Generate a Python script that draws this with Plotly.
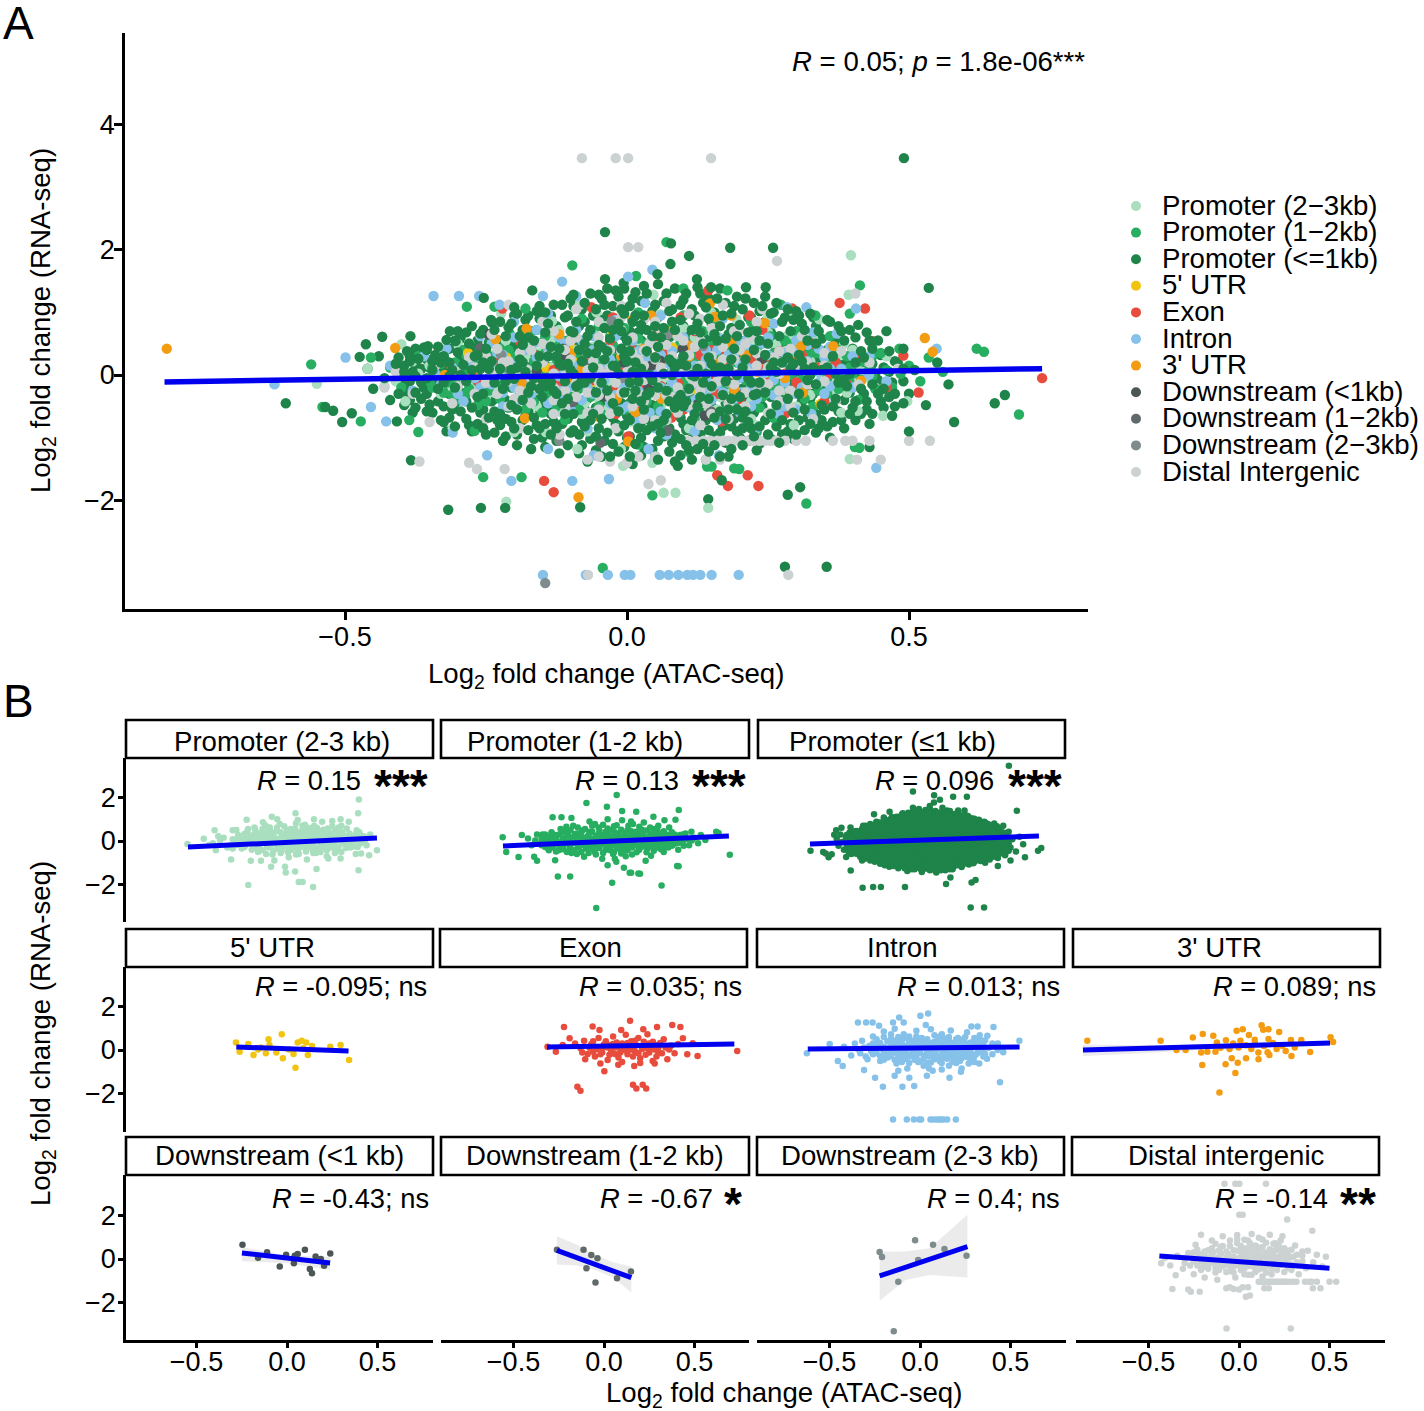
import plotly.graph_objects as go

FONT = "Liberation Sans"
W, H = 1424, 1411

# ------------------ values (ATAC log2FC, RNA log2FC) ------------------
promoter_3kb = [
(.397,1.91),(.393,1.28),(-.4,.49),(-.223,.98),(.047,1.28),(-.084,1.12),(-.133,.86),(-.054,1.0),(.059,.97),(.149,1.0),(.194,.89),(.25,.92),
(.296,1.0),(.341,.89),(-.28,.51),(-.55,-.14),(-.393,-.42),(-.309,-.85),(-.2,-.91),(-.144,-.91),(-.088,-1.18),(-.011,-1.18),(-.007,-1.45),
(.045,-1.4),(.163,-1.29),(.228,-.8),(.296,-.8),(.395,-1.34),(.409,-.57),(.454,-.65),(.497,-.42),(-.214,-2.02),(.065,-1.88),(.086,-1.88),(.144,-2.12),
(-.35,.15),(-.31,-.2),(-.27,.28),(-.25,-.35),(-.22,.42),(-.19,-.12),(-.18,.62),(-.16,-.5),(-.15,.18),(-.12,.72),(-.11,-.28),(-.09,.4),(-.08,-.62),
(-.06,.1),(-.04,.78),(-.03,-.42),(-.01,.3),(.01,-.75),(.02,.55),(.03,-.18),(.05,.82),(.06,-.5),(.07,.2),(.09,.62),(.1,-.3),(.11,-.85),(.12,.35),
(.13,.05),(.15,.7),(.16,-.55),(.17,.25),(.19,-.15),(.2,.52),(.22,-.42),(.23,.12),(.25,.68),(.26,-.25),(.28,.38),(.3,-.5),(.31,.1),(.33,.58),(.35,-.3),
(.36,.22),(.38,-.6),(.4,.4),(.42,.05),(.44,-.2),(.46,.3),(-.46,.1),(-.43,-.18),(-.38,.22),(-.3,.5),(-.24,.08),(-.2,.22),(-.13,.3),(-.07,-.9),(.0,.12),(.08,-.1),(.14,.45),
(-.41,-.1),(-.37,.02),(-.33,-.3),(-.29,-.05),(-.26,.12),(-.23,-.2),(-.21,.02),(-.18,.3),(-.17,-.32),(-.14,-.05),(-.12,.15),(-.1,-.15),(-.08,.02),(-.06,.45),(-.05,-.25),(-.03,.2),
(-.02,-.05),(.0,.5),(.01,-.32),(.02,.08),(.04,.3),(.05,-.08),(.07,-.3),(.08,.45),(.1,.12),(.11,-.12),(.12,.6),(.14,-.38),(.15,.1),(.17,.48),(.18,-.25),(.2,.2),(.21,-.05),(.23,.4),
(.24,-.2),(.26,.15),(.27,-.42),(.29,.05),(.3,.3),(.32,-.12),(.34,.12),(.36,-.08),(.38,.32),(.39,-.28),(.41,.18),(.43,-.05),(.3,.7),(.1,.75),(-.1,.55),(.22,-.7),(.05,-.62),
]
promoter_3kb_core = [
(-.3,[.08,-.35]),(-.275,[-.18,.12]),(-.25,[.2,-.1]),(-.235,[.32,-.28]),(-.215,[-.08,.1,.55]),(-.195,[.25,-.4]),(-.175,[.08,-.18,.5]),(-.155,[.35,-.25,-.02]),(-.135,[.12,-.42,.55]),
(-.115,[.02,.35,-.6]),(-.095,[.18,-.3,.62]),(-.075,[.3,-.12,-.45]),(-.055,[.02,.62,-.35]),(-.035,[.4,-.1,-.55]),(-.015,[.15,.68,-.25]),(.005,[.28,-.12,-.52]),(.025,[.38,.02,-.4]),(.045,[.15,-.28,.58]),
(.065,[.38,-.05,-.6]),(.085,[.22,-.2,.7]),(.105,[.42,-.02,-.48]),(.125,[.15,-.25,.5]),(.145,[.28,-.12,-.55]),(.165,[.05,.6,-.35]),(.185,[.32,-.05,-.5]),(.205,[.42,.05,-.28]),(.225,[.2,-.12,.58]),
(.245,[.3,-.3,.02]),(.265,[.48,-.05,-.55]),(.285,[.18,-.28,.62]),(.305,[.4,-.1]),(.325,[.22,-.32]),(.345,[.35,-.05]),(.365,[.1,-.25]),(.385,[.5,.02]),(.405,[-.12,.28]),(.425,[.22]),
]
promoter_2kb = [
(.07,2.12),(-.097,1.75),(.016,1.58),(-.284,1.09),(-.235,1.09),(-.18,1.06),(-.208,.66),(.1,1.38),(.178,1.35),(.273,1.12),(.334,.95),(.395,.98),(.413,1.43),
(-.56,.17),(-.454,.28),(-.54,-.51),(-.472,-.74),(-.386,-.72),(-.37,-.91),(-.27,-.89),(-.255,-1.63),(-.187,-1.63),(.02,-1.11),(.068,-.95),(.11,-1.23),(.142,-1.46),
(.19,-1.49),(.045,-1.92),(.318,-2.05),(-.043,-3.08),(.23,-.91),(.404,-1.15),(.695,-.63),(.62,.42),(.535,.28),(.483,.42),(.633,.37),(.412,-1.16),(.15,-1.46),(.199,-1.5),
(-.42,.12),(-.4,-.2),(-.37,.3),(-.35,-.1),(-.33,.18),(-.31,-.32),(-.29,.4),(-.27,.05),(-.25,-.42),(-.24,.55),(-.22,-.15),(-.2,.28),(-.18,-.55),(-.17,.7),(-.15,.1),
(-.14,-.3),(-.12,.48),(-.11,-.72),(-.09,.22),(-.08,.9),(-.06,-.1),(-.05,-.5),(-.03,.62),(-.02,.18),(-.01,-.82),(.01,.42),(.02,1.0),(.03,-.25),(.04,.1),(.05,-.6),
(.07,.72),(.08,.28),(.09,-.4),(.1,.95),(.11,.02),(.12,-.7),(.13,.5),(.14,-.2),(.16,.78),(.17,.15),(.18,-.52),(.2,.4),(.21,-.08),(.22,.85),(.24,-.35),(.25,.22),
(.26,-.68),(.28,.55),(.29,.0),(.3,-.3),(.32,.32),(.33,-.5),(.35,.12),(.36,.62),(.38,-.18),(.39,.3),(.41,-.4),(.43,.1),(.45,.35),(.47,-.2),(.5,.15),(.52,-.1),(.56,.05),
(-.38,.02),(-.34,.3),(-.32,-.12),(-.3,.12),(-.28,-.22),(-.26,.28),(-.23,.02),(-.21,.4),(-.19,-.32),(-.16,.32),(-.13,-.12),(-.12,.12),(-.1,-.35),(-.08,.42),(-.07,.02),(-.04,-.22),(-.03,.32),
(.0,.02),(.01,-.4),(.02,.58),(.04,-.12),(.06,.4),(.07,-.32),(.09,.1),(.1,-.15),(.12,.28),(.13,-.42),(.15,.45),(.16,-.02),(.18,.2),(.19,-.28),(.21,.52),(.22,.1),(.24,-.12),(.26,.35),
(.27,-.2),(.29,.25),(.31,-.08),(.33,.45),(.34,-.25),(.37,.2),(.4,.02),(.42,.28),(.44,-.22),(.15,.9),(-.05,.78),(.06,-.82),(-.15,-.6),(.3,.7),
]
promoter_2kb_core = [
(-.345,[.12,-.2]),(-.325,[.0,.3,-.28]),(-.305,[.2,-.1,-.42]),(-.285,[.08,.32,-.3]),(-.265,[-.1,.18,-.48]),(-.245,[.3,-.05,-.25]),(-.225,[.42,.12,-.38]),(-.205,[-.02,.25,-.5]),(-.185,[.15,.5,-.18]),
(-.165,[-.08,.22,-.42]),(-.145,[.35,.02,-.22,.62]),(-.125,[.25,-.2,-.5]),(-.105,[.12,.55,-.08]),(-.085,[.28,-.22,-.55]),(-.065,[.42,.1,-.35,.7]),(-.045,[.22,-.05,-.62]),(-.025,[.48,.05,-.32]),(-.005,[.28,-.15,-.55,.75]),
(.015,[.12,-.22,.32]),(.035,[.5,.22,-.05,-.42]),(.055,[.15,-.18,-.5,.68]),(.075,[.32,.02,-.25]),(.095,[.52,.2,-.08,-.58]),(.115,[.35,-.22,-.42]),(.135,[.15,-.02,.7]),(.155,[.28,-.3,-.62]),(.175,[.42,.05,-.15]),
(.195,[.2,-.4,.65]),(.215,[.3,-.02,-.25]),(.235,[.48,.15,-.52]),(.255,[.05,-.25,.62]),(.275,[.32,-.1,-.45]),(.295,[.12,.5,-.28]),(.315,[.22,-.02,-.38]),(.335,[.12,.35,-.15]),(.355,[.28,-.05,-.3]),
(.375,[.02,.4,-.22]),(.395,[.12,-.12]),(.415,[.22,-.08]),(.435,[-.02,.3]),(.46,[.08]),(.485,[.02]),
]
promoter_1kb = [
(.491,3.46),(-.039,2.28),(.078,2.1),(.183,2.03),(.259,2.03),(.11,1.9),(.077,1.77),(.535,1.39),(-.317,-2.15),(-.259,-2.12),(-.216,-2.12),(-.383,-1.36),
(-.605,-.45),(-.505,-.75),(-.535,-.51),(-.488,-.61),(-.521,-.57),(-.408,-.74),(-.083,-2.11),(.144,-1.98),(.168,-1.68),(.285,-1.91),(.307,-1.79),(.28,-3.06),(.354,-3.06),
(.652,-.45),(.67,-.32),(.58,-.75),(.5,-.9),(.43,-1.15),(-.463,.49),(-.434,.61),(-.384,.62),(-.474,.29),(-.353,.46),(-.314,.7),(-.304,.54),(-.275,.78),(-.254,1.23),(-.241,.88),
(-.2,1.08),(-.168,1.35),(-.039,1.53),(-.006,1.47),(.054,1.61),(.124,1.53),(.149,1.4),(.211,1.4),(.246,1.4),
(-.46,.1),(-.45,-.22),(-.44,.3),(-.43,-.05),(-.42,-.4),(-.41,.18),(-.4,-.15),(-.39,.38),(-.39,-.32),(-.38,.05),(-.38,-.6),(-.37,.26),(-.36,-.2),(-.36,.44),
(-.35,.12),(-.35,-.47),(-.34,-.03),(-.34,.32),(-.33,-.72),(-.33,.2),(-.32,-.28),(-.32,.56),(-.32,-.9),(-.31,.08),(-.31,-.55),(-.3,.36),(-.3,-.14),(-.3,.7),
(-.29,-.38),(-.29,.16),(-.28,-.8),(-.28,.5),(-.28,-.02),(-.27,.3),(-.27,-.25),(-.26,.66),(-.26,-.6),(-.26,.1),(-.25,-.95),(-.25,.42),(-.25,-.12),(-.24,.22),
(-.24,-.42),(-.24,.84),(-.23,.02),(-.23,-.72),(-.23,.56),(-.22,-.22),(-.22,.34),(-.22,-1.05),(-.21,.12),(-.21,.76),(-.21,-.52),(-.2,-.06),(-.2,.48),(-.2,-.85),
(-.2,.95),(-.19,.25),(-.19,-.32),(-.19,.62),(-.18,-.65),(-.18,.05),(-.18,.88),(-.17,-.18),(-.17,.4),(-.17,-1.18),(-.17,-.45),(-.16,.15),(-.16,.72),(-.16,-.8),
(-.16,1.02),(-.15,-.08),(-.15,.52),(-.15,-.35),(-.15,-1.0),(-.14,.3),(-.14,-.58),(-.14,.82),(-.14,.0),(-.13,-.25),(-.13,.62),(-.13,1.12),(-.13,-.75),(-.12,.18),
(-.12,-.42),(-.12,.42),(-.12,-1.25),(-.11,-.1),(-.11,.92),(-.11,-.62),(-.11,.28),(-.1,.7),(-.1,-.3),(-.1,.08),(-.1,-.92),(-.1,1.22),(-.09,.5),(-.09,-.18),(-.09,-.52),
(-.09,.85),(-.08,-.75),(-.08,.22),(-.08,1.05),(-.08,-.05),(-.08,-1.12),(-.07,.62),(-.07,-.38),(-.07,.35),(-.07,-1.38),(-.06,.12),(-.06,.95),(-.06,-.62),(-.06,-.2),
(-.05,.48),(-.05,1.28),(-.05,-.85),(-.05,.02),(-.04,.75),(-.04,-.35),(-.04,.25),(-.04,-1.05),(-.04,1.12),(-.03,-.12),(-.03,.58),(-.03,-.55),(-.03,-1.3),(-.02,.9),
(-.02,.14),(-.02,-.28),(-.02,1.35),(-.02,-.78),(-.01,.42),(-.01,-.05),(-.01,.7),(-.01,-.45),(-.01,1.05),(.0,-1.0),(.0,.22),(.0,-.65),(.0,.55),(.0,-.18),(.01,.85),
(.01,-1.42),(.01,.05),(.01,1.22),(.01,-.38),(.02,.35),(.02,-.85),(.02,.68),(.02,-.1),(.03,1.42),(.03,-.55),(.03,.18),(.03,.95),(.03,-1.15),(.04,-.28),(.04,.5),
(.04,.0),(.04,-.72),(.05,.78),(.05,-1.3),(.05,.28),(.05,-.15),(.05,1.12),(.06,-.45),(.06,.6),(.06,.1),(.06,-.92),(.07,1.3),(.07,-.25),(.07,.4),(.07,-.62),(.08,.85),
(.08,.0),(.08,-1.08),(.08,.2),(.08,1.05),(.09,-.38),(.09,.62),(.09,-1.45),(.09,-.12),(.1,.3),(.1,-.78),(.1,1.2),(.1,.78),(.1,-.5),(.11,.08),(.11,-.22),(.11,.5),(.11,-1.2),
(.12,.95),(.12,-.62),(.12,.22),(.12,-.02),(.13,-.95),(.13,.68),(.13,1.3),(.13,-.35),(.14,.4),(.14,.02),(.14,-.72),(.14,1.08),(.14,-1.35),(.15,-.18),(.15,.82),(.15,.18),
(.15,-.5),(.16,.55),(.16,-1.05),(.16,1.22),(.16,-.05),(.17,-.32),(.17,.3),(.17,.95),(.17,-.82),(.18,.1),(.18,.65),(.18,-.55),(.18,-1.3),(.19,1.1),(.19,-.15),(.19,.42),
(.19,-.7),(.2,.8),(.2,.02),(.2,-.35),(.2,-1.0),(.21,.25),(.21,1.22),(.21,-.58),(.21,.55),(.22,-.12),(.22,.92),(.22,-.85),(.23,.35),(.23,-.3),(.23,-1.2),(.23,.7),(.24,.08),
(.24,1.1),(.24,-.5),(.25,.5),(.25,-.18),(.25,-.95),(.25,.85),(.26,.2),(.26,-.68),(.26,1.0),(.27,-.3),(.27,.62),(.27,-.02),(.27,-1.08),(.28,.35),(.28,.92),(.28,-.5),
(.29,.1),(.29,-.78),(.29,.7),(.3,-.2),(.3,1.02),(.3,.42),(.3,-.95),(.31,-.42),(.31,.22),(.31,.82),(.32,-.08),(.32,-.68),(.32,.55),(.33,.92),(.33,.12),(.33,-.3),(.34,-.85),
(.34,.38),(.34,.7),(.35,-.12),(.35,-.55),(.36,.25),(.36,.85),(.36,-1.0),(.37,.02),(.37,.52),(.37,-.38),(.38,-.72),(.38,.7),(.39,.18),(.39,-.18),(.4,.42),(.4,-.52),(.41,.05),
(.41,.8),(.42,-.3),(.42,.28),(.43,-.78),(.43,.55),(.44,.02),(.45,-.42),(.45,.32),(.46,.7),(.47,-.12),(.47,-.65),(.48,.2),(.49,.42),(.5,-.3),(.51,.08),(.53,-.48),(.55,.2),(.57,-.15),
]
# extra dark-green points of the solid core, listed by ATAC position
promoter_1kb_core = [
(-.405,[.28,-.05,-.3,.1]),(-.395,[.05,-.22,.15,-.48]),(-.385,[.22,-.1,.3,-.4]),(-.375,[-.02,.15,-.28,.42,-.52]),(-.365,[.1,-.12,.32,-.38]),
(-.355,[.25,-.05,-.3,.4,-.58]),(-.345,[.08,-.15,.22,-.6]),(-.335,[.45,.02,-.22,-.42]),(-.325,[.3,.1,-.12,-.5,-.75]),(-.315,[.42,-.02,-.3,.2,-.68]),
(-.305,[.55,.12,-.2,-.45,-.82]),(-.295,[.3,.0,-.28,-.58,.58]),(-.285,[.68,.22,-.1,-.42,-.7]),(-.275,[.45,.08,-.18,-.52,-.9]),(-.265,[.32,-.02,-.35,.55,-.78]),
(-.255,[.72,.2,-.08,-.3,-.55,-.85]),(-.245,[.52,.1,-.18,-.68,.32]),(-.235,[.72,.28,-.12,-.38,-.58,-.92]),(-.225,[.85,.45,.1,-.3,-.62,-.8]),(-.215,[.62,.25,-.1,-.4,-.7,-.98]),
(-.205,[.82,.32,.08,-.2,-.48,-.75]),(-.195,[.98,.45,.12,-.12,-.55,-.95,-1.12]),(-.185,[.72,.2,-.05,-.4,-.72,.48]),(-.175,[.95,.6,.12,-.28,-.58,-.88]),(-.165,[.35,-.05,-.35,-.68,-1.02,.55]),
(-.155,[.9,.3,.02,-.22,-.55,-.85,1.1]),(-.145,[.68,.15,-.18,-.45,-.78,-1.15,1.0]),(-.135,[.95,.45,.12,-.12,-.62,-.95]),(-.125,[.78,.3,.0,-.3,-.52,-.85,-1.05]),(-.115,[1.12,.55,.15,-.2,-.45,-.78]),
(-.105,[.95,.45,.18,-.05,-.38,-.7,-1.12]),(-.095,[1.1,.68,.3,.02,-.28,-.62,-.88,1.28]),(-.085,[.78,.4,.12,-.15,-.42,-.95,-1.25]),(-.075,[1.15,.85,.5,.18,-.12,-.55,-.82]),(-.065,[1.3,.72,.28,-.05,-.32,-.72,-1.02]),
(-.055,[1.05,.62,.35,.1,-.28,-.52,-.98,-1.2]),(-.045,[1.22,.88,.45,.12,-.12,-.45,-.7,-1.3]),(-.035,[1.38,.95,.38,.05,-.25,-.62,-.92]),(-.025,[1.1,.72,.42,.15,-.18,-.45,-.68,-1.1]),(-.015,[1.25,.82,.28,.02,-.32,-.58,-.9,-1.22]),
(-.005,[1.38,.98,.62,.3,.08,-.28,-.55,-.8,-1.15]),(.005,[1.1,.7,.38,.15,-.12,-.45,-.72,-.98,-1.3]),(.015,[1.32,.95,.5,.2,-.05,-.25,-.62,-1.1]),(.025,[1.18,.8,.55,.1,-.18,-.42,-.75,-1.0,-1.28]),(.035,[1.3,.72,.38,.02,-.32,-.62,-.88]),
(.045,[1.02,.62,.22,-.08,-.48,-.82,-1.18]),(.055,[1.45,.92,.45,.15,-.2,-.55,-.78,-1.05,-1.35]),(.065,[1.18,.75,.32,.02,-.35,-.72,-.98]),(.075,[1.02,.6,.25,-.08,-.42,-.85,-1.22]),(.085,[1.38,.72,.42,.12,-.28,-.52,-.95,-1.38]),
(.095,[1.12,.88,.48,.18,-.05,-.32,-.68,-1.02,-1.28]),(.105,[1.3,.62,.15,-.12,-.42,-.88,-1.12]),(.115,[1.05,.72,.35,.0,-.32,-.72,-1.02,-1.35]),(.125,[1.4,.82,.45,.1,-.18,-.5,-.8,-1.18]),(.135,[1.15,.5,.25,-.12,-.6,-1.1]),
(.145,[1.22,.9,.6,.28,-.05,-.38,-.88,-1.22]),(.155,[1.0,.65,.32,.05,-.28,-.68,-.98,-1.12]),(.165,[1.38,.78,.42,.12,-.22,-.58,-.92,-1.3]),(.175,[1.15,.58,.15,-.1,-.45,-.7,-1.08]),(.185,[.98,.75,.25,-.02,-.38,-.82,-1.18]),
(.195,[1.25,.62,.3,.0,-.28,-.55,-.9]),(.205,[1.05,.45,.12,-.22,-.68,-.85,-1.12]),(.215,[.92,.68,.35,-.05,-.42,-.75,-1.05]),(.225,[1.15,.75,.4,.15,-.32,-.6,-.98]),(.235,[1.02,.55,.2,-.12,-.45,-.82,-1.1]),
(.245,[1.25,.85,.32,-.02,-.28,-.72]),(.255,[.98,.68,.12,-.35,-.62,-1.02]),(.265,[1.15,.42,.05,-.15,-.48,-.82]),(.275,[.85,.5,.2,-.22,-.72,-.95]),(.285,[1.05,.62,.28,-.08,-.38,-.9]),
(.295,[.88,.52,.18,-.12,-.6,-1.02]),(.305,[.95,.62,.32,-.05,-.3,-.72]),(.315,[.72,.42,.1,-.2,-.55,-.88]),(.325,[.98,.3,.0,-.38,-.78]),(.335,[.78,.5,.22,-.15,-.62,-.92]),
(.345,[.58,.08,-.22,-.48,-.72]),(.355,[.88,.4,.12,-.3,-.82]),(.365,[.62,.3,-.02,-.5,-.75]),(.375,[.78,.18,-.12,-.58]),(.385,[.55,.3,-.08,-.4,-.85]),
(.395,[.72,.02,-.28,-.62]),(.405,[.6,.2,-.12,-.42,-.72]),(.415,[.38,-.02,-.22,-.62]),(.425,[.68,.12,-.42,-.55]),(.435,[.42,.18,-.15,-.62]),(.445,[.55,-.08,-.3]),(.455,[.12,-.22,-.52]),(.465,[.38,.05,-.35]),(.475,[.22,-.3,-.5]),(.49,[.1,-.1,-.45]),
]
utr5 = [
(-.282,.35),(-.262,-.08),(-.214,.28),(-.185,-.23),(-.144,.12),(-.117,-.15),(-.102,.49),(-.097,.23),(-.059,-.11),(-.029,.72),(-.023,-.38),(.036,-.18),(.047,-.82),
(.059,.35),(.081,.43),(.106,.34),(.115,-.23),(.138,.18),(.239,.15),(.296,.23),(.343,-.46),(.01,.02),(.09,.08),(-.16,.02),
]
exon = [
(.144,1.35),(-.221,1.06),(-.063,1.08),(-.025,.92),(.095,.92),(.217,.95),(.293,1.06),(.377,1.15),(.422,1.06),(-.312,.15),(-.19,.54),(-.228,.23),(-.266,-.08),
(-.147,-1.69),(.16,-1.6),(.214,-1.6),(.002,-.98),(.167,-.74),(.179,-1.77),(.233,-1.77),(-.13,-1.87),(.079,-.68),(-.104,-.43),(.02,-.46),(.269,-.51),(.517,-.28),(.49,.31),(.436,.54),(.736,-.05),(.46,-.2),
(-.16,.3),(-.13,.08),(-.11,.42),(-.09,-.18),(-.07,.28),(-.05,-.3),(-.03,.55),(-.01,.1),(.01,.4),(.03,-.22),(.05,.62),(.06,.12),(.08,-.35),(.1,.3),(.12,.7),(.13,-.2),(.15,.4),(.17,-.05),
(.19,.55),(.2,-.38),(.22,.22),(.24,.72),(.25,-.12),(.27,.38),(.29,-.3),(.3,.12),(.33,.5),(.35,-.42),(.37,.2),(.39,-.15),(.41,.28),(.2,-.6),(.28,-.62),(.1,-.55),(-.02,-.62),
(-.08,.1),(-.04,.05),(-.02,-.2),(.0,.25),(.02,.12),(.04,-.05),(.07,.35),(.09,-.12),(.11,.1),(.14,.18),(.16,-.3),(.18,.22),(.21,.05),(.23,-.22),(.26,.15),(.28,.02),(.31,.32),(.32,-.15),(.34,.12),(.36,.02),
(-.12,-.12),(-.06,.4),(-.01,-.12),(.03,.22),(.06,-.18),(.08,.12),(.12,-.02),(.15,.02),(.19,-.15),(.22,.38),(.24,.08),(.29,.22),(.3,-.12),(-.06,-.08),(.05,.28),(.13,.32),(.17,.42),(.25,.3),
]
intron = [
(-.343,1.26),(-.298,1.26),(-.262,1.26),(-.226,1.12),(-.149,1.26),(-.115,1.49),(-.09,1.26),(.045,1.68),(.002,1.57),(.032,1.15),(.284,1.08),(.318,1.08),(.406,1.06),(.372,.66),(.549,.42),(-.625,-.15),
(-.499,.28),(-.454,-.51),(-.427,-.74),(-.309,-.92),(-.248,-1.28),(-.205,-1.69),(-.097,-1.69),(-.032,-1.66),(-.14,-1.18),(-.059,-1.28),(.038,-1.18),(.163,-1.28),(.226,-1.0),(.269,-.62),(.327,-.62),(.442,-1.48),(.429,.0),
(-.149,-3.19),(-.073,-3.19),(-.034,-3.19),(-.004,-3.19),(.006,-3.19),(.058,-3.19),(.074,-3.19),(.091,-3.19),(.107,-3.19),(.117,-3.19),(.13,-3.19),(.15,-3.19),(.198,-3.19),
(-.42,.15),(-.38,-.25),(-.36,.3),(-.34,.02),(-.32,.42),(-.3,-.3),(-.28,.18),(-.26,.62),(-.25,-.12),(-.23,.35),(-.22,-.5),(-.2,.85),(-.19,.1),(-.17,-.3),(-.16,.52),(-.14,.98),(-.13,-.62),(-.12,.25),
(-.1,-.18),(-.09,.72),(-.07,-.85),(-.06,.4),(-.05,.08),(-.03,-.45),(-.02,.88),(-.01,-.15),(.01,.55),(.02,-.72),(.03,.22),(.05,-.3),(.06,.95),(.07,-.95),(.08,.38),(.09,.02),(.11,-.52),(.12,.72),(.13,-.15),
(.14,.25),(.16,-.72),(.17,.9),(.18,.1),(.19,-.38),(.21,.55),(.22,-.1),(.23,-.85),(.25,.32),(.26,.82),(.27,-.25),(.29,.12),(.3,-.55),(.32,.48),(.34,-.12),(.35,.28),(.37,-.4),(.38,.1),(.4,-.2),(.43,.3),(.46,-.1),
(.0,.3),(.1,.45),(-.08,-.4),(.15,-.4),(.24,.02),(-.21,.05),
(-.33,-.15),(-.31,.12),(-.29,-.42),(-.27,-.05),(-.24,.2),(-.22,.12),(-.2,-.2),(-.18,.4),(-.16,-.1),(-.15,.22),(-.13,.02),(-.11,-.38),(-.11,.5),(-.09,.15),(-.07,-.2),(-.06,.62),(-.04,-.08),(-.03,.25),
(-.01,-.55),(-.01,.42),(.01,.08),(.02,-.25),(.04,.5),(.05,.02),(.06,-.58),(.07,.2),(.08,.68),(.09,-.28),(.1,.12),(.11,.3),(.12,-.4),(.13,.55),(.14,-.05),(.15,.2),(.16,.4),(.17,-.28),(.19,.28),(.2,-.05),
(.21,.15),(.22,.42),(.23,-.38),(.25,.6),(.26,-.08),(.27,.2),(.28,-.5),(.3,.38),(.31,-.2),(.32,.05),(.33,.68),(.35,-.3),(.36,.45),(.4,.3),(.05,-.85),(-.12,-.95),(.2,-.6),(.12,-.9),
]
intron_core = [
(-.26,[.3,-.2]),(-.24,[-.15,.5]),(-.22,[.32,-.28]),(-.2,[.15,.6,-.45]),(-.18,[-.12,-.35]),(-.16,[.28,-.22,.72]),(-.14,[.42,-.12,-.45]),(-.12,[-.02,.6,-.25]),(-.1,[.32,.1,-.55]),(-.08,[.55,.18,-.12]),
(-.06,[-.3,.22,-.6]),(-.04,[.42,.12,-.25]),(-.02,[.62,.05,-.32]),(.0,[.15,-.12,-.5]),(.02,[.38,.12,-.42]),(.04,[.22,-.1,-.6]),(.06,[.32,.02,-.2]),(.08,[.12,-.12,-.42]),(.1,[.6,.3,-.32]),(.12,[.15,-.15,-.6]),
(.14,[.4,.1,-.28]),(.16,[.6,.05,-.15]),(.18,[.32,-.12,-.55]),(.2,[.18,.5,-.28]),(.22,[.1,-.22,-.5]),(.24,[.3,.5,-.15]),(.26,[.12,-.32]),(.28,[.35,-.12]),(.3,[.15,-.3,.55]),(.32,[.22,-.12]),(.34,[.42,.05]),(.36,[.1,-.18]),
]
utr3 = [
(-.816,.42),(-.411,.43),(-.323,.0),(-.273,.0),(-.233,.57),(-.178,.74),(-.181,-.69),(-.12,.65),(-.086,-1.95),(-.052,-.66),(.002,-1.06),(-.018,-.38),(.009,.88),(.043,.95),(.077,.69),(.147,1.14),
(.185,.95),(.244,.83),(.185,.51),(.309,.46),(.366,.46),(.528,.59),(.542,.37),(.415,-.09),(.312,-.28),(.19,-.23),(.129,-.12),(.061,-.38),(-.153,-.08),(-.187,-.12),(-.108,-.08),(.109,.47),(.156,.93),(.015,-.59),
(-.1,.35),(-.08,.1),(-.05,.45),(-.03,.05),(-.01,.3),(.02,.12),(.03,.42),(.06,.22),(.09,.05),(.11,.3),(.13,-.42),(.16,.18),(.18,-.1),(.21,.32),(.23,.05),(.26,.2),(.28,-.05),(.33,.12),
]
down_1kb_x = [-.246,-.16,-.11,-.04,-.005,.038,.043,.059,.099,.126,.138,.158,.187,.205,.239]
down_1kb_y = [.65,.06,.31,-.34,.2,-.2,.15,.23,.42,-.46,-.65,.11,.0,-.31,.25]
down_2kb_x = [-.26,-.113,-.07,-.036,-.097,-.047,.072,.149]
down_2kb_y = [.43,.42,.18,.03,-.43,-1.08,-.89,-.58]
down_3kb_x = [-.223,-.21,-.027,.072,.135,.257,-.12,-.145,-.01]
down_3kb_y = [.32,.09,.86,.65,.46,.15,-1.05,-3.32,-.05]
distal = [
(-.08,3.46),(-.02,3.46),(.002,3.46),(.149,3.46),(.002,2.04),(.02,2.04),(.266,1.82),(-.21,1.12),(-.368,-1.38),(-.266,-1.5),(-.217,-1.5),(-.069,-3.19),(.286,-3.19),(.038,-1.74),
(.109,-1.05),(.122,-1.05),(.136,-1.05),(.148,-1.05),(.16,-1.05),(.17,-1.05),(.18,-1.05),(.19,-1.05),(.203,-1.05),(.215,-1.05),(.225,-1.05),(.235,-1.05),(.245,-1.05),(.255,-1.05),(.265,-1.05),(.28,-1.05),
(.3,-1.05),(.317,-1.05),(.365,-1.05),(.387,-1.05),(.4,-1.05),(.43,-1.05),(.5,-1.05),(.537,-1.05),(.408,-1.35),(.45,-1.35),(.14,-1.35),(.165,-1.35),(-.28,-1.4),(-.07,-1.35),(-.05,-1.3),(-.03,-1.38),(.0,-1.4),(.02,-1.3),
(.05,-1.3),(.06,-1.68),(-.41,.05),(-.38,-.3),(-.34,.15),(-.31,-.45),(-.28,.28),(-.25,-.7),(-.24,.65),(-.21,-.1),(-.19,-.85),(-.17,.4),(-.15,.85),(-.13,-.4),(-.12,-.95),(-.1,.25),(-.09,1.05),(-.07,-.6),(-.05,.6),(-.04,.02),
(-.02,-.85),(-.01,1.1),(.01,.35),(.02,-.3),(.03,.88),(.05,-.72),(.06,.12),(.07,1.15),(.08,-.35),(.1,.55),(.11,.98),(.12,-.12),(.13,-.8),(.15,.3),(.17,1.12),(.18,-.45),(.2,.72),(.22,.02),(.24,1.05),(.25,-.6),(.27,.38),
(.29,-.25),(.31,.62),(.33,-.7),(.35,.15),(.37,-.42),(.38,.38),(.41,-.15),(.43,.2),(.46,-.35),(.48,.1),(.405,1.3),(-.35,-.75),(-.43,-.2),
(-.24,.02),(-.22,.2),(-.2,-.38),(-.18,.1),(-.16,-.2),(-.14,.32),(-.13,.02),(-.11,-.25),(-.1,.55),(-.08,-.05),(-.06,.22),(-.05,-.32),(-.03,.4),(-.02,-.12),(-.01,.72),(.0,.05),(.01,-.5),(.02,.25),(.03,-.08),
(.04,.5),(.05,-.32),(.06,.72),(.07,.0),(.08,.3),(.09,-.6),(.1,.12),(.11,-.25),(.12,.45),(.13,.15),(.14,-.45),(.15,.75),(.16,-.1),(.17,.25),(.18,-.7),(.19,.02),(.2,.4),(.21,-.28),(.22,.6),(.23,.15),(.24,-.12),(.26,.28),(.27,-.42),(.3,.1),
]
distal_core = [
(-.3,[.05,-.18]),(-.27,[.12,-.3]),(-.25,[.3,-.12]),(-.23,[-.3,.42]),(-.21,[.22,-.5]),(-.19,[.05,.35,-.25]),(-.17,[-.05,-.45]),(-.15,[.2,.5,-.18]),(-.13,[.7,-.2,-.62]),(-.11,[.1,.4,-.5]),(-.09,[-.12,.6,-.35]),
(-.07,[.35,.08,-.28]),(-.05,[.85,.1,-.12,-.55]),(-.03,[.12,-.35,-.62]),(-.01,[.38,-.28,.92]),(.01,[.6,.1,-.15]),(.03,[.4,.15,-.42,-.7]),(.05,[.25,.85,-.1]),(.07,[.48,-.32,-.72]),(.09,[.1,.62,-.2]),(.11,[.32,.02,-.48]),
(.13,[.55,-.25,.9]),(.15,[.08,-.2,-.62]),(.17,[.45,.02,-.32]),(.19,[.7,.25,-.15]),(.21,[.08,.5,-.5]),(.23,[.35,-.28,.85]),(.25,[.12,-.15,.5]),(.27,[.2,.02,-.25]),(.29,[.42,.08,-.5]),(.32,[.2,-.15]),(.35,[-.1,.35]),
]

names = ["Promoter (2\u22123kb)","Promoter (1\u22122kb)","Promoter (<=1kb)","5' UTR","Exon","Intron","3' UTR",
         "Downstream (<1kb)","Downstream (1\u22122kb)","Downstream (2\u22123kb)","Distal Intergenic"]
colors = ["#A9DFBF","#27AE60","#1E8449","#F1C40F","#E74C3C","#85C1E9","#F39C12","#4D5656","#616A6B","#7F8C8D","#CCD1D1"]
def merged(base, core):
    return base + [(x, y) for x, ys in core for y in ys]
series = [merged(promoter_3kb,promoter_3kb_core),merged(promoter_2kb,promoter_2kb_core),merged(promoter_1kb,promoter_1kb_core),utr5,exon,merged(intron,intron_core),utr3,
          list(zip(down_1kb_x,down_1kb_y)),list(zip(down_2kb_x,down_2kb_y)),list(zip(down_3kb_x,down_3kb_y)),merged(distal,distal_core)]
strip_titles = ["Promoter (2-3 kb)","Promoter (1-2 kb)","Promoter (\u22641 kb)","5' UTR","Exon","Intron","3' UTR",
                "Downstream (<1 kb)","Downstream (1-2 kb)","Downstream (2-3 kb)","Distal intergenic"]
r_labels = ["= 0.15","= 0.13","= 0.096","= -0.095; ns","= 0.035; ns","= 0.013; ns","= 0.089; ns",
            "= -0.43; ns","= -0.67","= 0.4; ns","= -0.14"]
stars = ["***","***","***","","","","","","*","","**"]
main_fit_x = [-.82,.736]
main_fit_y = [-.11,.1]
fit_x = [[-.547,.497],[-.558,.69],[-.608,.657],[-.28,.34],[-.315,.72],[-.62,.55],[-.84,.525],[-.249,.238],[-.26,.151],[-.223,.262],[-.44,.5]]
fit_y = [[-.28,.14],[-.23,.23],[-.14,.23],[.14,-.05],[.14,.28],[.05,.14],[.0,.32],[.28,-.18],[.4,-.86],[-.78,.57],[.14,-.42]]
band_x = {6:[-.84,-.5,-.2,.525,.525,-.2,-.5,-.84],7:[-.249,0,.238,.238,0,-.249],
          8:[-.26,-.15,-.05,.05,.151,.151,.05,-.05,-.15,-.26],9:[-.223,-.081,.054,.262,.262,.054,-.081,-.223]}
band_y = {6:[.25,.22,.2,.42,.2,.0,-.15,-.28],7:[.55,.15,.1,-.52,-.2,-.1],
          8:[1.05,.65,.2,-.15,-.35,-1.54,-.85,-.5,-.3,-.25],9:[.33,.35,.5,2.04,-.85,-.74,-.97,-1.92]}

# ------------------ page geometry (pixels) ------------------
def px(v): return v / W
def py(v): return 1 - v / H

LINE = 2.6
TXT = 27.6
fig = go.Figure()
layout_axes = {}

def add_axes(idx, l, r, t, b, x0, y0, sx, sy, xvals, xtext, yvals, ytext, show_x, show_y, xoff, yoff, tick=7):
    xa, ya = f"xaxis{idx}", f"yaxis{idx}"
    common = dict(showgrid=False, zeroline=False, showline=True, linecolor="black", linewidth=LINE, ticks="outside",
                  tickcolor="black", tickwidth=LINE, ticklen=tick,
                  tickfont=dict(family=FONT, size=27, color="black"))
    layout_axes[xa] = dict(common, domain=[px(l), px(r)], range=[(l-x0)/sx, (r-x0)/sx], anchor=f"y{idx}", visible=show_x)
    layout_axes[ya] = dict(common, domain=[py(b), py(t)], range=[(y0-b)/sy, (y0-t)/sy], anchor=f"x{idx}", visible=show_y)
    if show_x:
        layout_axes[xa].update(tickmode="array", tickvals=xvals, ticktext=xtext, ticklabelstandoff=xoff)
    if show_y:
        layout_axes[ya].update(tickmode="array", tickvals=yvals, ticktext=ytext, ticklabelstandoff=yoff)

def unzip(p):
    return [a for a, _ in p], [b for _, b in p]

def pts(data, color, idx, size, name):
    x, y = unzip(data)
    fig.add_trace(go.Scatter(x=x, y=y, mode="markers", name=name, showlegend=False, xaxis=f"x{idx}", yaxis=f"y{idx}",
                             marker=dict(size=size, color=color, line=dict(width=0))))

# main panel
add_axes(1, 125, 1088, 33, 609, 627, 375, 564, 62.67, [-.5,0,.5], ["\u22120.5","0.0","0.5"], [-2,0,2,4], ["\u22122","0","2","4"], True, True, -6, -6, 8)

dark = series[2]
pts(dark[1::2], colors[2], 1, 10.4, names[2])
for i in [0,1,3,4,5,6,7,8,9,10]:
    pts(series[i], colors[i], 1, 10.4, names[i])
pts(dark[::2], colors[2], 1, 10.4, names[2])
fig.add_trace(go.Scatter(x=main_fit_x, y=main_fit_y, mode="lines", line=dict(color="#0000EE", width=5.5), showlegend=False, xaxis="x1", yaxis="y1"))

# facets: left, right, top, bottom, x-zero pixel, y-zero pixel, strip box, strip text centre
facets = [
 (126,433,758,922,287,841,(126,433,720,758),282),(441,749,758,922,604,841,(441,749,720,758),575),(758,1065,758,922,920,841,(758,1065,720,758),892),
 (126,433,967,1132,287,1050,(126,433,929,967),272),(440,747,967,1132,604,1050,(440,747,929,967),590),(757,1064,967,1132,920,1050,(757,1064,929,967),902),(1073,1381,967,1132,1235,1050,(1073,1380,929,967),1219),
 (126,433,1175,1340,287,1259,(126,433,1137,1175),279),(441,749,1175,1340,604,1259,(441,749,1137,1175),595),(757,1066,1175,1340,920,1259,(757,1064,1137,1175),910),(1076,1385,1175,1340,1239,1259,(1072,1379,1137,1175),1226),
]
text_ends = [(362,428),(680,746),(995,1062),(428,0),(743,0),(1061,0),(1377,0),(430,0),(714,742),(1061,0),(1329,1376)]
text_rows = [780,780,780,987,987,987,987,1198,1198,1198,1198]
strip_text_rows = [741,741,741,947,947,947,947,1155,1155,1155,1155]

shapes, anns = [], []
def ann(x, y, text, size=TXT, anchor="center", **kw):
    anns.append(dict(x=px(x), y=py(y), xref="paper", yref="paper", text=text, showarrow=False, xanchor=anchor, yanchor="middle",
                     font=dict(family=FONT, size=size, color="black"), borderpad=0, **kw))

for k, (l, r, t, b, x0, y0, box, cx) in enumerate(facets):
    idx = k + 2
    last_row = k >= 7
    add_axes(idx, l, r, t, b, x0, y0, 181, 21.75, [-.5,0,.5], ["\u22120.5","0.0","0.5"], [-2,0,2], ["\u22122","0","2"],
             last_row, k in (0,3,7), -9, -3, 5)
    if k in band_x:
        fig.add_trace(go.Scatter(x=band_x[k], y=band_y[k], mode="lines", fill="toself", fillcolor="#EBEBEB",
                                 line=dict(width=0), showlegend=False, hoverinfo="skip", xaxis=f"x{idx}", yaxis=f"y{idx}"))
    pts(series[k], colors[k], idx, 6.5, names[k])
    fig.add_trace(go.Scatter(x=fit_x[k], y=fit_y[k], mode="lines", line=dict(color="#0000EE", width=5), showlegend=False, xaxis=f"x{idx}", yaxis=f"y{idx}"))
    bl, br, bt, bb = box
    shapes.append(dict(type="rect", xref="paper", yref="paper", x0=px(bl), x1=px(br), y0=py(bb), y1=py(bt),
                       line=dict(color="black", width=LINE), fillcolor="white"))
    ann(cx, strip_text_rows[k], strip_titles[k])
    te, se = text_ends[k]
    ann(te, text_rows[k], f"<i>R</i> {r_labels[k]}", size=27.3, anchor="right")
    if stars[k]:
        ann(se+1, text_rows[k]+6, f"<b>{stars[k]}</b>", size=46, anchor="right")

ann(938, 61, "<i>R</i> = 0.05; <i>p</i> = 1.8e-06***")
ann(606, 675, "Log<sub>2</sub> fold change (ATAC-seq)")
ann(42, 321, "Log<sub>2</sub> fold change (RNA-seq)", textangle=-90)
ann(784, 1394, "Log<sub>2</sub> fold change (ATAC-seq)")
ann(42, 1034, "Log<sub>2</sub> fold change (RNA-seq)", textangle=-90)
ann(18, 23, "A", size=46)
ann(18, 701, "B", size=46)

# legend
for i, (n, c) in enumerate(zip(names, colors)):
    yy = 205 + 26.6 * i
    shapes.append(dict(type="circle", xref="paper", yref="paper", x0=px(1131), x1=px(1141), y0=py(yy+6), y1=py(yy-4),
                       line=dict(width=0), fillcolor=c))
    ann(1161, yy, n, anchor="left")

fig.update_layout(width=W, height=H, autosize=False, margin=dict(l=0, r=0, t=0, b=0, pad=0), plot_bgcolor="white", paper_bgcolor="white",
                  showlegend=False, shapes=shapes, annotations=anns, font=dict(family=FONT, size=27, color="black"), **layout_axes)
fig.write_html("out.html", config={"displayModeBar": False},
               post_script="document.body.style.margin='0';document.documentElement.style.overflow='hidden';")
